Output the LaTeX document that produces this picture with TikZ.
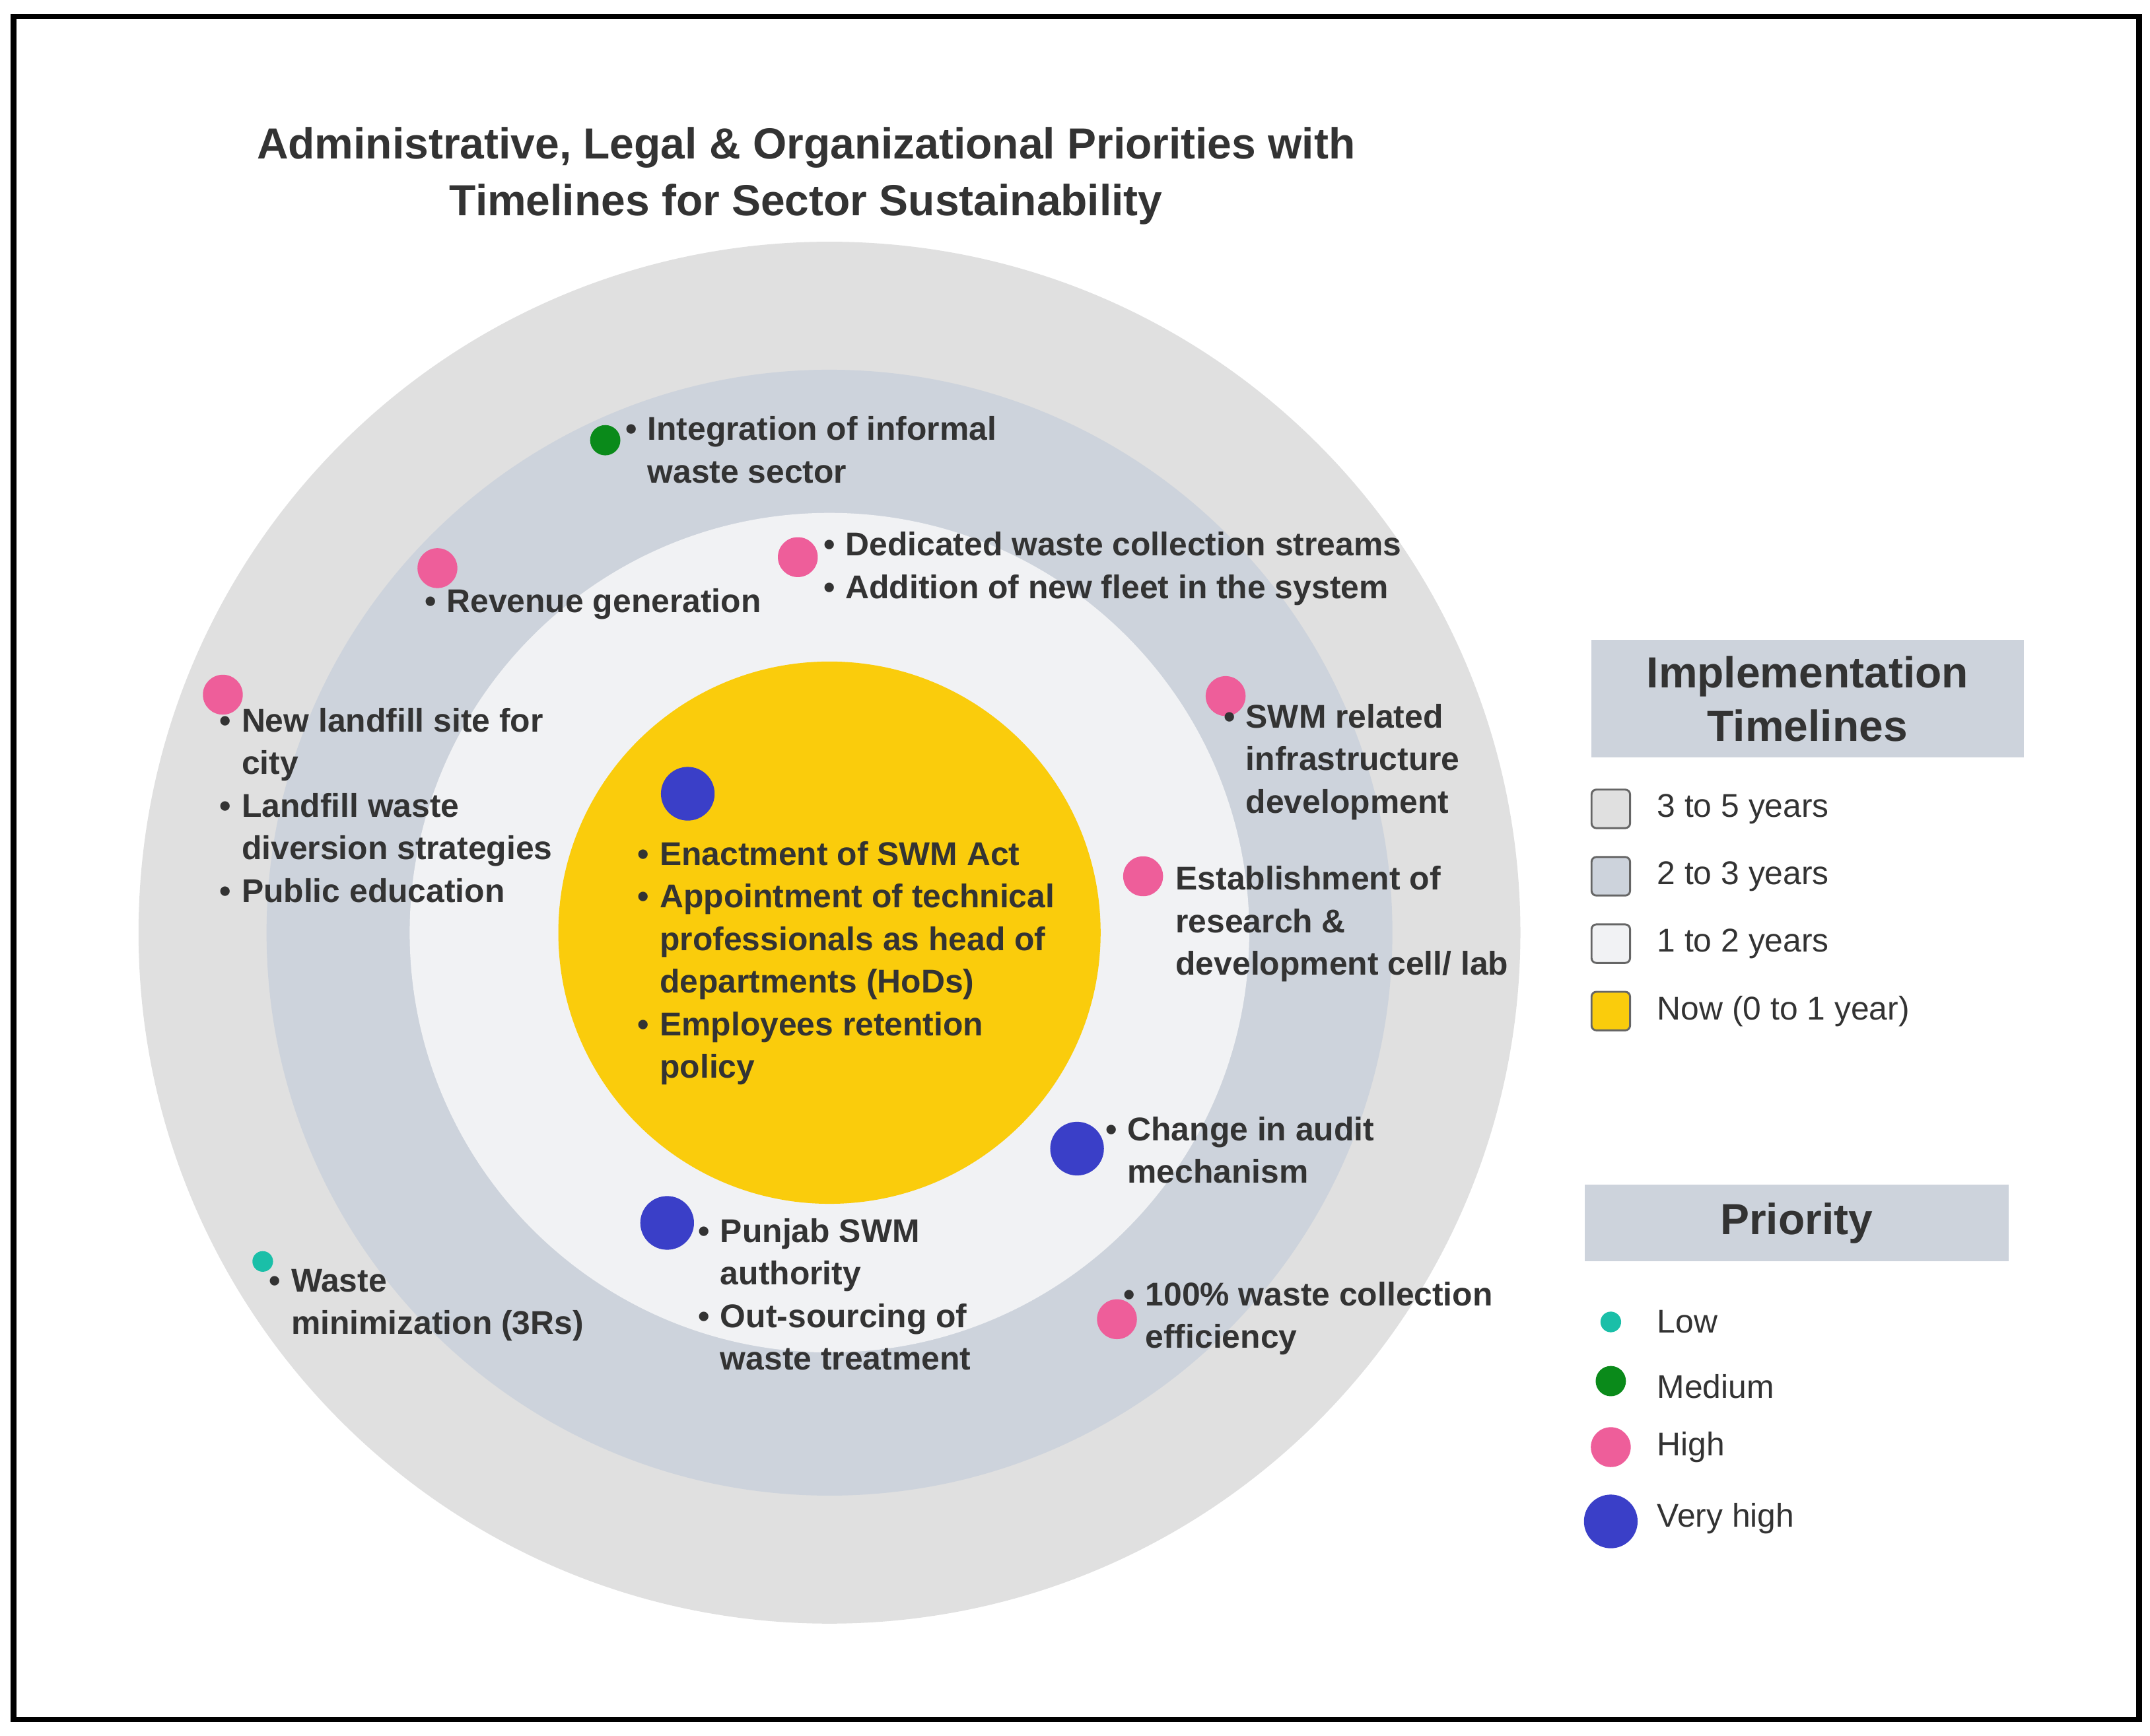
\documentclass[tikz,border=0pt]{standalone}
\usepackage{fontspec}
\setmainfont{Liberation Sans}
\definecolor{ringA}{HTML}{E0E0E0}
\definecolor{ringB}{HTML}{CDD3DC}
\definecolor{ringC}{HTML}{F1F2F4}
\definecolor{core}{HTML}{FACC0C}
\definecolor{txt}{HTML}{333333}
\definecolor{pLow}{HTML}{1ABFA8}
\definecolor{pMed}{HTML}{0A8A1A}
\definecolor{pHigh}{HTML}{EE5E9A}
\definecolor{pVhigh}{HTML}{3A3FC8}
\newcommand{\bl}{\makebox[0.16cm][l]{\textbullet}}
\newcommand{\ind}{\hspace*{0.16cm}}
\tikzset{
  lbl/.style={font=\fontsize{6.8}{8.8}\selectfont\bfseries,text=txt,align=left,anchor=north west,inner sep=0},
  leg/.style={font=\fontsize{6.8}{8.8}\selectfont,text=txt,anchor=west,inner sep=0},
  dot/.style={circle,inner sep=0,minimum size=#1},
  low/.style={dot=0.15cm,fill=pLow},
  med/.style={dot=0.22cm,fill=pMed},
  high/.style={dot=0.29cm,fill=pHigh},
  vhigh/.style={dot=0.39cm,fill=pVhigh},
  sq/.style={draw=gray!80!black,rounded corners=1pt,minimum size=0.28cm,inner sep=0},
  hdr/.style={fill=ringB,font=\fontsize{9}{11}\selectfont\bfseries,text=txt,align=center}
}
\begin{document}
\begin{tikzpicture}[x=0.01cm,y=-0.01cm]
\useasboundingbox (0,0) rectangle (1563,1262);
\draw[line width=1.2pt] (10,12) rectangle (1555,1250);
% title
\node[font=\fontsize{9}{11.7}\selectfont\bfseries,text=txt,align=center] (title) at (586,128)
  {Administrative, Legal \& Organizational Priorities with\\Timelines for Sector Sustainability};
% rings
\fill[ringA] (603,678) circle[radius=5.02cm];
\fill[ringB] (603,678) circle[radius=4.09cm];
\fill[ringC] (603,678) circle[radius=3.05cm];
\fill[core] (603,678) circle[radius=1.97cm];
% dots and labels
\node[med] (d1) at (440,320) {};
\node[lbl] (t1) at (454,302) {\bl Integration of informal\\\ind waste sector};
\node[high] (d2) at (318,413) {};
\node[lbl] (t2) at (308,427) {\bl Revenue generation};
\node[high] (d3) at (580,405) {};
\node[lbl] (t3) at (598,386) {\bl Dedicated waste collection streams\\\bl Addition of new fleet in the system};
\node[high] (d4) at (162,505) {};
\node[lbl] (t4) at (159,514) {\bl New landfill site for\\\ind city\\\bl Landfill waste\\\ind diversion strategies\\\bl Public education};
\node[high] (d5) at (891,506) {};
\node[lbl] (t5) at (889,511) {\bl SWM related\\\ind infrastructure\\\ind development};
\node[high] (d6) at (831,637) {};
\node[lbl] (t6) at (854,629) {Establishment of\\research \&\\development cell/ lab};
\node[vhigh] (d7) at (500,577) {};
\node[lbl] (t7) at (463,611) {\bl Enactment of SWM Act\\\bl Appointment of technical\\\ind professionals as head of\\\ind departments (HoDs)\\\bl Employees retention\\\ind policy};
\node[vhigh] (d8) at (783,835) {};
\node[lbl] (t8) at (803,811) {\bl Change in audit\\\ind mechanism};
\node[vhigh] (d9) at (485,889) {};
\node[lbl] (t9) at (507,885) {\bl Punjab SWM\\\ind authority\\\bl Out-sourcing of\\\ind waste treatment};
\node[low] (d10) at (191,917) {};
\node[lbl] (t10) at (195,922) {\bl Waste\\\ind minimization (3Rs)};
\node[high] (d11) at (812,959) {};
\node[lbl] (t11) at (816,931) {\bl 100\% waste collection\\\ind efficiency};
% timeline legend
\node[hdr,minimum width=3.14cm,minimum height=0.8cm] (tl) at (1314,508) {Implementation\\Timelines};
\node[sq,fill=ringA] (s1) at (1171,588) {};
\node[leg] (l1) at (1204,588) {3 to 5 years};
\node[sq,fill=ringB] (s2) at (1171,637) {};
\node[leg] (l2) at (1204,637) {2 to 3 years};
\node[sq,fill=ringC] (s3) at (1171,686) {};
\node[leg] (l3) at (1204,686) {1 to 2 years};
\node[sq,fill=core] (s4) at (1171,735) {};
\node[leg] (l4) at (1204,735) {Now (0 to 1 year)};
% priority legend
\node[hdr,minimum width=3.08cm,minimum height=0.56cm] (pr) at (1306,889) {Priority};
\node[low] (p1) at (1171,961) {};
\node[leg] (q1) at (1204,961) {Low};
\node[med] (p2) at (1171,1004) {};
\node[leg] (q2) at (1204,1008) {Medium};
\node[high] (p3) at (1171,1052) {};
\node[leg] (q3) at (1204,1052) {High};
\node[vhigh] (p4) at (1171,1106) {};
\node[leg] (q4) at (1204,1104) {Very high};
\end{tikzpicture}
\end{document}
